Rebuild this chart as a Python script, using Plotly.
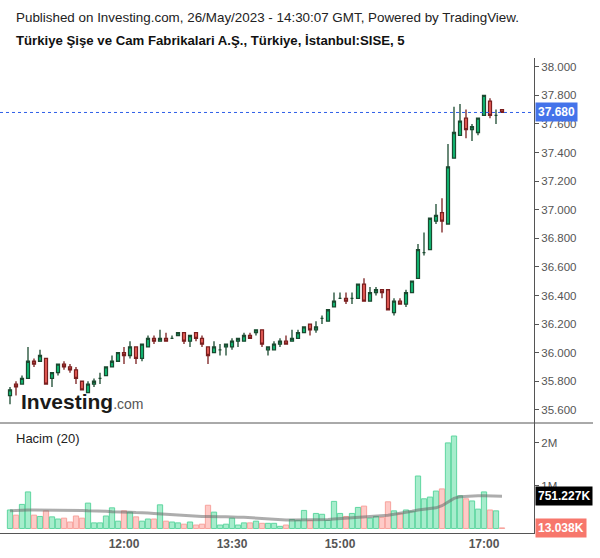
import pandas as pd
import plotly.graph_objects as go

# ---------------- data ----------------
start_time = "2023-05-26 10:25"
n_bars = 83

opens = [35.70, 35.78, 35.78, 35.82, 35.94, 35.94, 35.96, 35.82, 35.86, 35.92,
         35.90, 35.88, 35.80, 35.72, 35.78, 35.82, 35.84, 35.90, 35.94, 36.00,
         35.98, 36.04, 35.96, 36.04, 36.10, 36.08, 36.10, 36.10, 36.12, 36.14,
         36.08, 36.14, 36.10, 36.04, 36.00, 36.02, 36.04, 36.04, 36.08, 36.08,
         36.12, 36.14, 36.16, 36.02, 36.02, 36.06, 36.08, 36.08, 36.10, 36.14,
         36.20, 36.16, 36.24, 36.22, 36.32, 36.38, 36.38, 36.38, 36.38, 36.48,
         36.36, 36.42, 36.44, 36.44, 36.28, 36.36, 36.34, 36.42, 36.52, 36.70,
         36.72, 36.92, 36.98, 36.90, 37.36, 37.52, 37.64, 37.56, 37.54, 37.66,
         37.76, 37.66, 37.70]
highs = [35.76, 35.80, 35.84, 36.04, 35.96, 36.02, 35.96, 35.86, 35.92, 35.94,
         35.92, 35.90, 35.80, 35.80, 35.82, 35.86, 35.90, 35.98, 36.00, 36.04,
         36.08, 36.04, 36.06, 36.12, 36.12, 36.16, 36.14, 36.12, 36.14, 36.14,
         36.12, 36.14, 36.12, 36.04, 36.08, 36.06, 36.06, 36.10, 36.10, 36.14,
         36.14, 36.16, 36.16, 36.04, 36.08, 36.10, 36.12, 36.16, 36.16, 36.18,
         36.20, 36.22, 36.26, 36.30, 36.42, 36.42, 36.42, 36.42, 36.48, 36.52,
         36.46, 36.46, 36.44, 36.44, 36.38, 36.38, 36.44, 36.50, 36.76, 36.84,
         36.94, 37.04, 37.08, 37.46, 37.72, 37.74, 37.70, 37.60, 37.64, 37.80,
         37.78, 37.70, 37.70]
lows = [35.64, 35.70, 35.78, 35.82, 35.90, 35.94, 35.78, 35.76, 35.84, 35.88,
        35.86, 35.78, 35.74, 35.72, 35.76, 35.78, 35.84, 35.90, 35.94, 35.92,
        35.96, 35.92, 35.94, 36.04, 36.06, 36.08, 36.08, 36.10, 36.12, 36.06,
        36.04, 36.08, 36.04, 35.92, 36.00, 35.98, 35.98, 36.02, 36.04, 36.08,
        36.10, 36.12, 36.04, 35.98, 36.02, 36.04, 36.06, 36.08, 36.10, 36.14,
        36.12, 36.14, 36.20, 36.22, 36.32, 36.38, 36.34, 36.34, 36.38, 36.36,
        36.36, 36.40, 36.38, 36.30, 36.26, 36.34, 36.32, 36.42, 36.52, 36.68,
        36.72, 36.90, 36.84, 36.90, 37.36, 37.52, 37.50, 37.48, 37.52, 37.66,
        37.64, 37.60, 37.68]
closes = [35.74, 35.76, 35.82, 35.94, 35.92, 35.98, 35.78, 35.86, 35.92, 35.90,
          35.88, 35.82, 35.74, 35.78, 35.80, 35.82, 35.90, 35.94, 36.00, 35.98,
          36.04, 35.96, 36.06, 36.10, 36.08, 36.10, 36.08, 36.10, 36.14, 36.08,
          36.12, 36.10, 36.06, 35.98, 36.04, 36.02, 36.06, 36.08, 36.10, 36.12,
          36.10, 36.16, 36.06, 36.04, 36.06, 36.08, 36.06, 36.10, 36.14, 36.18,
          36.16, 36.18, 36.24, 36.30, 36.36, 36.38, 36.36, 36.38, 36.48, 36.36,
          36.42, 36.44, 36.42, 36.30, 36.36, 36.34, 36.42, 36.50, 36.72, 36.70,
          36.94, 36.96, 36.92, 37.30, 37.54, 37.62, 37.56, 37.58, 37.64, 37.80,
          37.66, 37.66, 37.68]

# volume in millions
volumes = [0.43, 0.31, 0.56, 0.85, 0.31, 0.28, 0.41, 0.27, 0.22, 0.24,
           0.15, 0.29, 0.24, 0.59, 0.13, 0.13, 0.29, 0.48, 0.17, 0.41,
           0.38, 0.27, 0.17, 0.22, 0.22, 0.55, 0.17, 0.15, 0.13, 0.10,
           0.15, 0.08, 0.10, 0.54, 0.38, 0.08, 0.10, 0.24, 0.08, 0.13,
           0.13, 0.17, 0.12, 0.12, 0.12, 0.05, 0.08, 0.21, 0.19, 0.42,
           0.19, 0.35, 0.33, 0.19, 0.63, 0.35, 0.28, 0.35, 0.49, 0.52,
           0.24, 0.28, 0.26, 0.62, 0.41, 0.35, 0.43, 0.40, 1.22, 0.69,
           0.73, 0.87, 0.92, 1.99, 2.15, 0.76, 0.69, 0.64, 0.45, 0.85,
           0.43, 0.41, 0.013038]
# 20-period volume moving average (millions)
vol_ma = [0.41, 0.42, 0.42, 0.43, 0.43, 0.43, 0.43, 0.43, 0.43, 0.43,
          0.43, 0.42, 0.42, 0.41, 0.41, 0.40, 0.40, 0.39, 0.39, 0.38,
          0.38, 0.37, 0.37, 0.36, 0.35, 0.34, 0.34, 0.33, 0.32, 0.31,
          0.30, 0.29, 0.28, 0.28, 0.27, 0.27, 0.27, 0.26, 0.26, 0.26,
          0.25, 0.24, 0.23, 0.22, 0.21, 0.21, 0.20, 0.20, 0.20, 0.20,
          0.20, 0.21, 0.21, 0.21, 0.22, 0.23, 0.23, 0.24, 0.25, 0.26,
          0.27, 0.28, 0.30, 0.31, 0.33, 0.35, 0.37, 0.40, 0.43, 0.45,
          0.46, 0.48, 0.53, 0.62, 0.70, 0.74, 0.75, 0.76, 0.76, 0.76,
          0.76, 0.76, 0.751227]

last_price = 37.68
price_ticks = [35.6, 35.8, 36.0, 36.2, 36.4, 36.6, 36.8, 37.0, 37.2, 37.4, 37.6, 37.8, 38.0]
time_ticks = ["2023-05-26 12:00", "2023-05-26 13:30", "2023-05-26 15:00", "2023-05-26 17:00"]
time_tick_labels = ["12:00", "13:30", "15:00", "17:00"]
vol_ticks = [1.0, 2.0]
vol_tick_labels = ["1M", "2M"]
ma_label = "751.227K"
vol_label = "13.038K"

title1 = "Published on Investing.com, 26/May/2023 - 14:30:07 GMT, Powered by TradingView."
title2 = "Türkiye Şişe ve Cam Fabrikalari A.Ş., Türkiye, İstanbul:SISE, 5"

# ---------------- styling ----------------
times = pd.date_range(start_time, periods=n_bars, freq="5min")
up = [c >= o for o, c in zip(opens, closes)]

G_FILL, G_LINE = "#0fc77c", "#1b4a30"
R_FILL, R_LINE = "#f2625c", "#7a1f1f"
VG_FILL, VG_LINE = "#a6edcc", "#5fd6a0"
VR_FILL, VR_LINE = "#fecac7", "#f7a39d"
AX = "#555555"
FONT = "Arial, Liberation Sans, sans-serif"

W, H = 600, 558
ML, MR, MT, MB = 0, 66, 58, 25
PH = H - MT - MB  # plot height in px
PW = W - ML - MR
split = (533 - 423) / PH


def py(ypx):
    return (H - MB - ypx) / PH


def px(xpx):
    return (xpx - ML) / PW


fig = go.Figure()

for flag, fill, line in [(True, G_FILL, G_LINE), (False, R_FILL, R_LINE)]:
    idx = [i for i in range(n_bars) if up[i] == flag]
    style = dict(fillcolor=fill, line=dict(color=line, width=1.3))
    fig.add_trace(go.Candlestick(
        x=[times[i] for i in idx],
        open=[opens[i] for i in idx], high=[highs[i] for i in idx],
        low=[lows[i] for i in idx], close=[closes[i] for i in idx],
        increasing=style, decreasing=style, whiskerwidth=0,
        showlegend=False, hoverinfo="skip", xaxis="x", yaxis="y"))

fig.add_trace(go.Bar(
    x=times, y=volumes,
    marker=dict(color=[VG_FILL if u else VR_FILL for u in up],
                line=dict(color=[VG_LINE if u else VR_LINE for u in up], width=1)),
    showlegend=False, hoverinfo="skip", xaxis="x", yaxis="y2"))

fig.add_trace(go.Scatter(
    x=times, y=vol_ma, mode="lines",
    line=dict(color="rgba(105,105,105,0.55)", width=3),
    showlegend=False, hoverinfo="skip", xaxis="x", yaxis="y2"))

fig.update_layout(
    width=W, height=H,
    margin=dict(l=ML, r=MR, t=MT, b=MB),
    paper_bgcolor="white", plot_bgcolor="white",
    font=dict(family=FONT, color="#333"),
    bargap=0.12, showlegend=False,
    xaxis=dict(
        domain=[0, 1], anchor="y2",
        range=["2023-05-26 10:16:40", "2023-05-26 17:41:40"],
        showgrid=False, zeroline=False, showline=True, linecolor=AX, linewidth=1,
        ticks="", tickvals=time_ticks,
        ticktext=[f"<b>{t}</b>" for t in time_tick_labels],
        tickfont=dict(size=12, color="#555"),
        rangeslider=dict(visible=False), fixedrange=True),
    yaxis=dict(
        domain=[split, 1], anchor="x", side="right",
        range=[35.508, 38.061],
        showgrid=False, zeroline=False, showline=True, linecolor=AX, linewidth=1,
        ticks="outside", ticklen=4, tickcolor=AX,
        tickvals=price_ticks, ticktext=[f"{v:.3f}" for v in price_ticks],
        tickfont=dict(size=11.5, color="#555")),
    yaxis2=dict(
        domain=[0, split], anchor="x", side="right",
        range=[-0.105, 2.453],
        showgrid=False, zeroline=False, showline=True, linecolor=AX, linewidth=1,
        ticks="outside", ticklen=4, tickcolor=AX,
        tickvals=vol_ticks, ticktext=vol_tick_labels,
        tickfont=dict(size=11.5, color="#555")),
)

# separator between panes and last-price dotted line
fig.add_shape(type="line", xref="paper", yref="paper", x0=0, x1=px(593), y0=split, y1=split,
              line=dict(color=AX, width=1))
fig.add_shape(type="line", xref="paper", yref="y", x0=0, x1=1, y0=last_price, y1=last_price,
              line=dict(color="#2f5fe8", width=1, dash="dot"))

ann = []
ann.append(dict(text=title1, x=px(14), y=py(17), xref="paper", yref="paper",
                xanchor="left", yanchor="middle", showarrow=False,
                font=dict(size=13.4, color="#222")))
ann.append(dict(text=f"<b>{title2}</b>", x=px(14), y=py(41), xref="paper", yref="paper",
                xanchor="left", yanchor="middle", showarrow=False,
                font=dict(size=13.2, color="#111")))
ann.append(dict(text="Hacim (20)", x=px(14), y=py(438), xref="paper", yref="paper",
                xanchor="left", yanchor="middle", showarrow=False,
                font=dict(size=13, color="#222")))
ann.append(dict(text="<b>Investing</b><span style='font-size:14px;color:#555'>.com</span>",
                x=px(19), y=py(401), xref="paper", yref="paper",
                xanchor="left", yanchor="middle", showarrow=False,
                font=dict(size=21, color="#1a1a1a")))
ann.append(dict(text=f"<b>{last_price:.3f}</b>", x=1, y=last_price, xref="paper", yref="y",
                xanchor="left", yanchor="middle", xshift=1, showarrow=False,
                bgcolor="#4473ea", borderpad=2, font=dict(size=12, color="white")))
ann.append(dict(text=f"<b>{ma_label}</b>", x=1, y=vol_ma[-1], xref="paper", yref="y2",
                xanchor="left", yanchor="middle", xshift=1, showarrow=False,
                bgcolor="#000000", borderpad=2, font=dict(size=12, color="white")))
ann.append(dict(text=f"<b>{vol_label}</b>", x=1, y=volumes[-1], xref="paper", yref="y2",
                xanchor="left", yanchor="middle", xshift=1, showarrow=False,
                bgcolor="#f7776c", borderpad=2, font=dict(size=12, color="white")))
fig.update_layout(annotations=ann)

fig.write_html("out.html")
